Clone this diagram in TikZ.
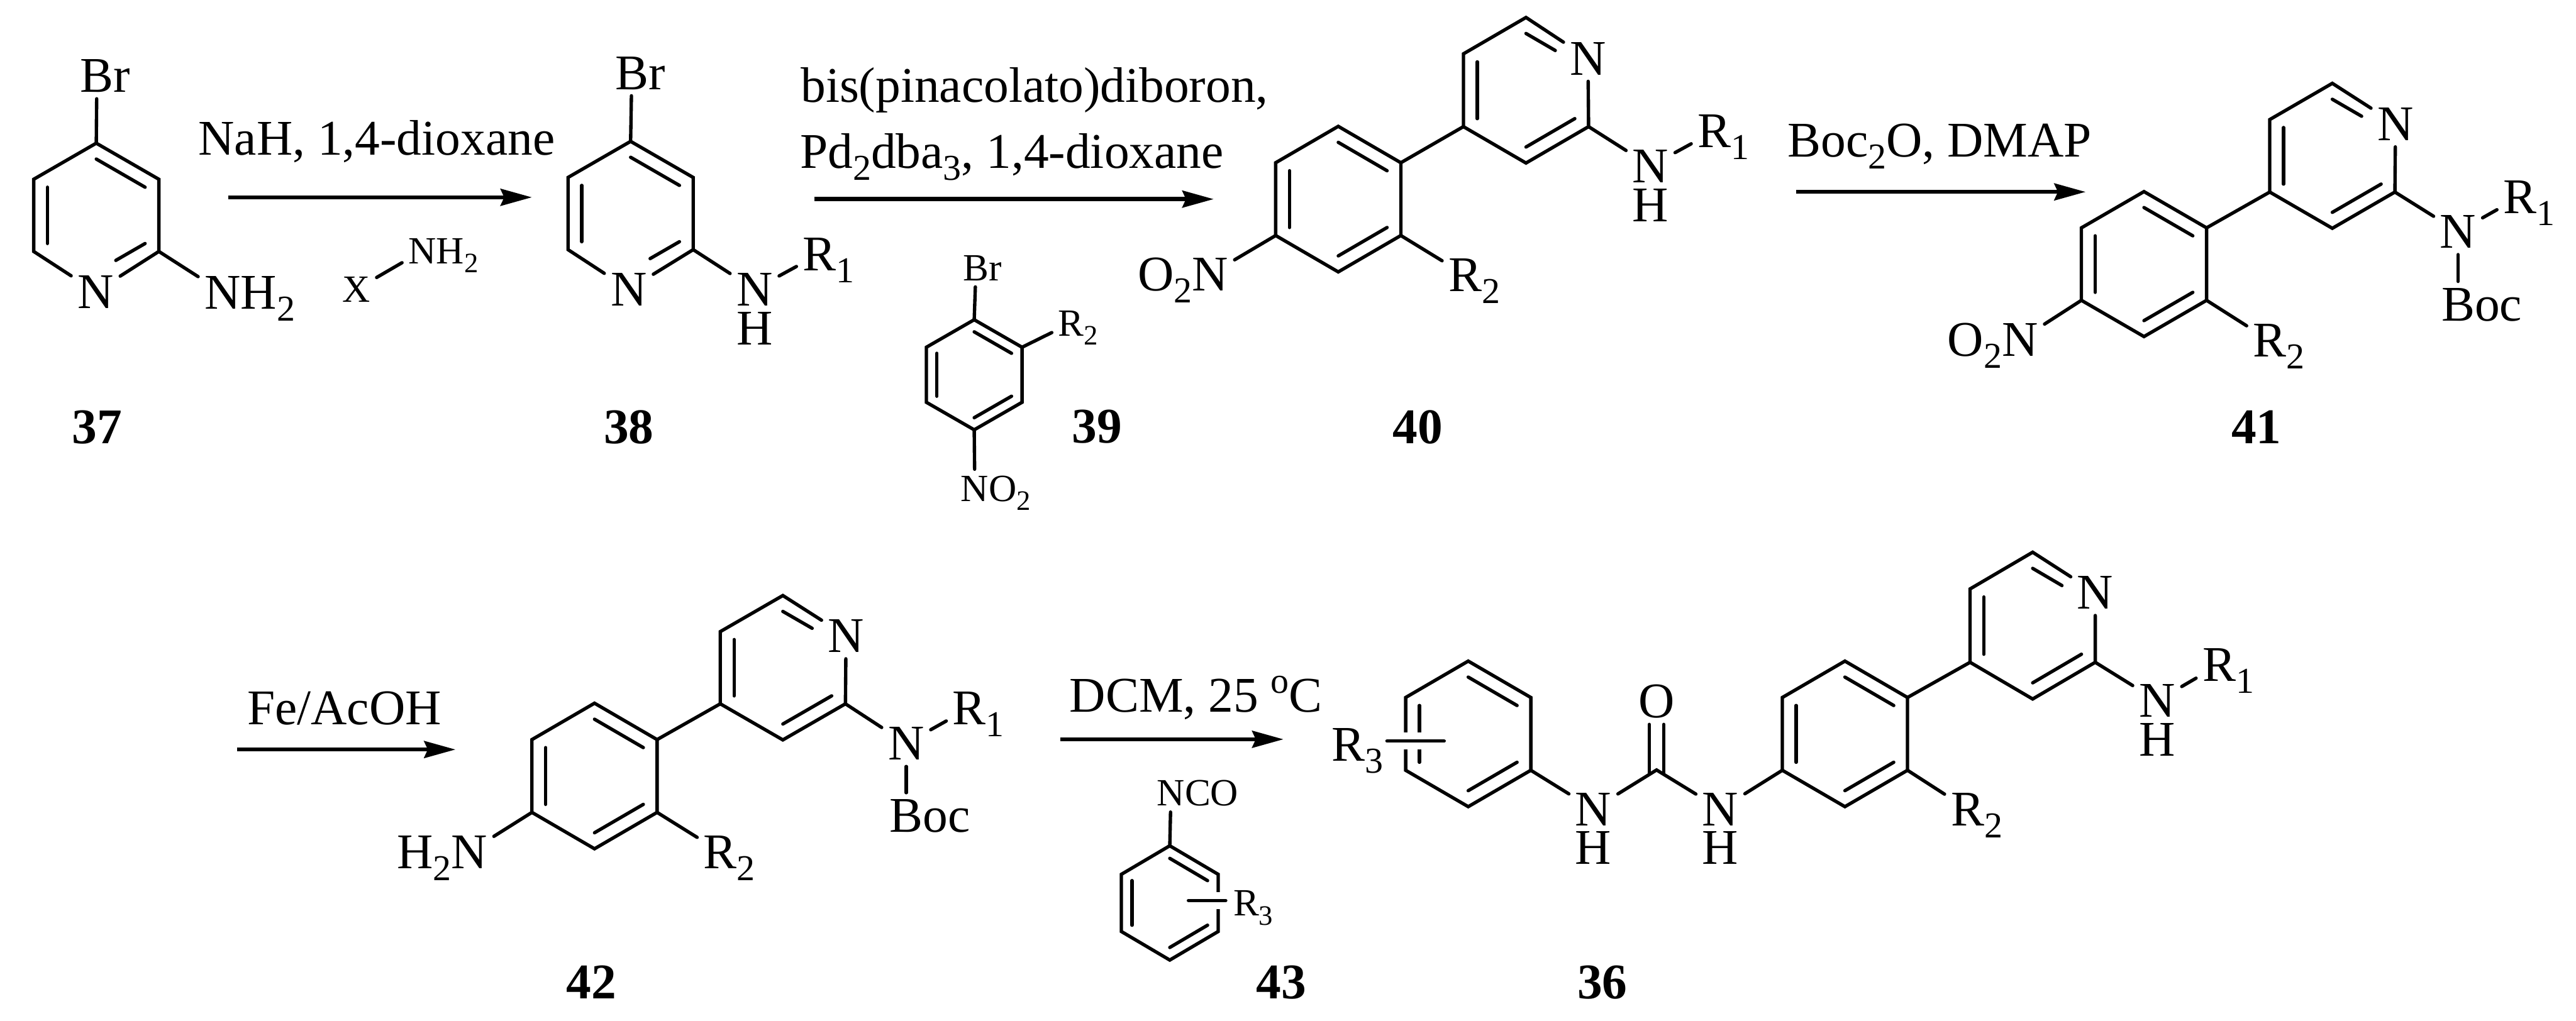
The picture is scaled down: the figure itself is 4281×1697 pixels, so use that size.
\documentclass[tikz,border=0pt]{standalone}
\usepackage{graphicx}
\usepackage{fontspec}
\setmainfont{Liberation Serif}
\usetikzlibrary{arrows.meta, calc}

\newcommand{\chsub}[1]{\raisebox{-.24em}{\scalebox{.73}{#1}}}
\newcommand{\hexring}[5]{%
    \coordinate (#1-c) at (#2, #3);
    \coordinate (#1-1) at ($(#1-c) + (0, -#5)$);
    \coordinate (#1-2) at ($(#1-c) + (#4, -#5/2)$);
    \coordinate (#1-3) at ($(#1-c) + (#4, #5/2)$);
    \coordinate (#1-4) at ($(#1-c) + (0, #5)$);
    \coordinate (#1-5) at ($(#1-c) + (-#4, #5/2)$);
    \coordinate (#1-6) at ($(#1-c) + (-#4, -#5/2)$);
}
\newcommand{\dbl}[3]{\draw [bond] ($(#1-#2)!0.22!(#1-c)$) -- ($(#1-#3)!0.22!(#1-c)$);}
\newcommand{\dblN}[3]{\draw [bond] ($(#1-#2)!0.22!(#1-c)$) -- ($($(#1-#2)!0.22!(#1-c)$)!0.6!($(#1-#3)!0.22!(#1-c)$)$);}

\tikzset{
    bond/.style = {line width = 1.4pt, line cap = round},
    halo/.style = {preaction = {draw, white, line width = 7pt, line cap = butt}},
    rxn/.style = {line width = 1.7pt, -{Stealth[length = 13pt, width = 7pt, inset = 1.5pt]}},
    atom/.style = {inner sep = 2.5pt, text height = 13.7pt, text depth = 0pt, font = \fontsize{20.75}{24}\selectfont},
    smallatom/.style = {inner sep = 2.5pt, text height = 10.6pt, text depth = 0pt, font = \fontsize{16}{19}\selectfont},
    reagent/.style = {inner sep = 0pt, anchor = base west, font = \fontsize{20.75}{24}\selectfont},
    cmpd/.style = {inner sep = 0pt, text height = 14pt, text depth = 0pt, font = \fontsize{20.75}{24}\selectfont\bfseries},
}

\begin{document}
\begin{tikzpicture}[x = 0.25pt, y = -0.25pt]
    \useasboundingbox (0, 0) rectangle (4281, 1697);

    % 37
    \hexring{py37}{160}{358}{104}{120}
    \node [atom] (n37) at (159, 485) {N};
    \node [atom] (nh37) at (370, 486) {N\rlap{H\chsub{2}}};
    \node [atom] (br37) at (161, 126) {B\rlap{r}};
    \draw [bond] (n37) -- (py37-5) -- (py37-6) -- (py37-1) -- (py37-2) -- (py37-3) -- (n37);
    \draw [bond] (py37-1) -- (br37);
    \draw [bond] (py37-3) -- (nh37);
    \dbl{py37}{1}{2}
    \dbl{py37}{6}{5}
    \dblN{py37}{3}{4}
    \node [cmpd] (lab37) at (161, 709) {37};

    % first step
    \node [reagent] (nahDiox) at (329, 258) {NaH, 1,4-dioxane};
    \coordinate (arr1s) at (379, 328);
    \coordinate (arr1e) at (884, 328);
    \draw [rxn] (arr1s) -- (arr1e);
    \node [smallatom] (xAmine) at (592, 481) {X};
    \node [smallatom] (nhAmine) at (702, 417) {N\rlap{H\chsub{2}}};
    \draw [bond] (xAmine) -- (nhAmine);

    % 38
    \hexring{py38}{1048}{355}{104}{120}
    \node [atom] (n38) at (1045, 481) {N};
    \node [atom] (nr38) at (1254, 481) {N};
    \node [atom] (h38) at (1254, 546) {H};
    \node [atom] (r38) at (1362, 422) {R\rlap{\chsub{1}}};
    \node [atom] (br38) at (1050, 121) {B\rlap{r}};
    \draw [bond] (n38) -- (py38-5) -- (py38-6) -- (py38-1) -- (py38-2) -- (py38-3) -- (n38);
    \draw [bond] (py38-1) -- (br38);
    \draw [bond] (py38-3) -- (nr38);
    \draw [bond] (nr38) -- (r38);
    \dbl{py38}{1}{2}
    \dbl{py38}{6}{5}
    \dblN{py38}{3}{4}
    \node [cmpd] (lab38) at (1045, 709) {38};

    % second step
    \node [reagent] (bisPin) at (1330, 170) {bis(pinacolato)diboron,};
    \node [reagent] (pdDba) at (1329, 280) {Pd\chsub{2}dba\chsub{3}, 1,4-dioxane};
    \coordinate (arr2s) at (1353, 331);
    \coordinate (arr2e) at (2017, 331);
    \draw [rxn] (arr2s) -- (arr2e);

    % 39
    \hexring{ar39}{1619}{623}{79.5}{91.5}
    \node [smallatom] (br39) at (1622, 445) {B\rlap{r}};
    \node [smallatom] (r39) at (1780, 537) {R\rlap{\chsub{2}}};
    \node [smallatom] (no39) at (1620, 812) {N\rlap{O\chsub{2}}};
    \draw [bond] (ar39-1) -- (ar39-2) -- (ar39-3) -- (ar39-4) -- (ar39-5) -- (ar39-6) -- cycle;
    \draw [bond] (ar39-1) -- (br39);
    \draw [bond] (ar39-2) -- (r39);
    \draw [bond] (ar39-4) -- (no39);
    \dbl{ar39}{1}{2}
    \dbl{ar39}{6}{5}
    \dbl{ar39}{4}{3}
    \node [cmpd] (lab39) at (1823, 708) {39};

    % 40
    \hexring{ar40}{2224}{331}{104}{121}
    \hexring{py40}{2536}{150}{104}{121}
    \node [atom] (n40) at (2639, 97) {N};
    \node [atom] (nr40) at (2743, 276) {N};
    \node [atom] (h40) at (2743, 341) {H};
    \node [atom] (ra40) at (2849, 218) {R\rlap{\chsub{1}}};
    \node [atom] (rb40) at (2435, 457) {R\rlap{\chsub{2}}};
    \node [atom] (no40) at (2011, 456) {\llap{O\chsub{2}}N};
    \draw [bond] (ar40-1) -- (ar40-2) -- (ar40-3) -- (ar40-4) -- (ar40-5) -- (ar40-6) -- cycle;
    \draw [bond] (n40) -- (py40-3) -- (py40-4) -- (py40-5) -- (py40-6) -- (py40-1) -- (n40);
    \draw [bond] (ar40-2) -- (py40-5);
    \draw [bond] (ar40-3) -- (rb40);
    \draw [bond] (ar40-5) -- (no40);
    \draw [bond] (py40-3) -- (nr40);
    \draw [bond] (nr40) -- (ra40);
    \dbl{ar40}{1}{2}
    \dbl{ar40}{6}{5}
    \dbl{ar40}{4}{3}
    \dblN{py40}{1}{2}
    \dbl{py40}{6}{5}
    \dbl{py40}{4}{3}
    \node [cmpd] (lab40) at (2356, 709) {40};

    % third step
    \node [reagent] (bocDmap) at (2970, 261) {Boc\chsub{2}O, DMAP};
    \coordinate (arr3s) at (2985, 319);
    \coordinate (arr3e) at (3466, 319);
    \draw [rxn] (arr3s) -- (arr3e);

    % 41
    \hexring{ar41}{3563}{439}{104}{120.5}
    \hexring{py41}{3876}{259}{104}{120.5}
    \node [atom] (n41) at (3981, 206) {N};
    \node [atom] (nr41) at (4085, 385) {N};
    \node [atom] (boc41) at (4085, 506) {B\rlap{oc}};
    \node [atom] (ra41) at (4188, 327) {R\rlap{\chsub{1}}};
    \node [atom] (rb41) at (3772, 566) {R\rlap{\chsub{2}}};
    \node [atom] (no41) at (3357, 565) {\llap{O\chsub{2}}N};
    \draw [bond] (ar41-1) -- (ar41-2) -- (ar41-3) -- (ar41-4) -- (ar41-5) -- (ar41-6) -- cycle;
    \draw [bond] (n41) -- (py41-3) -- (py41-4) -- (py41-5) -- (py41-6) -- (py41-1) -- (n41);
    \draw [bond] (ar41-2) -- (py41-5);
    \draw [bond] (ar41-3) -- (rb41);
    \draw [bond] (ar41-5) -- (no41);
    \draw [bond] (py41-3) -- (nr41);
    \draw [bond] (nr41) -- (ra41);
    \draw [bond] (nr41) -- (boc41);
    \dbl{ar41}{1}{2}
    \dbl{ar41}{6}{5}
    \dbl{ar41}{4}{3}
    \dblN{py41}{1}{2}
    \dbl{py41}{6}{5}
    \dbl{py41}{4}{3}
    \node [cmpd] (lab41) at (3750, 709) {41};

    % fourth step
    \node [reagent] (feAcoh) at (410, 1205) {Fe/AcOH};
    \coordinate (arr4s) at (394, 1246);
    \coordinate (arr4e) at (757, 1246);
    \draw [rxn] (arr4s) -- (arr4e);

    % 42
    \hexring{ar42}{988}{1290}{104}{121}
    \hexring{py42}{1301}{1110}{104}{120}
    \node [atom] (n42) at (1406, 1057) {N};
    \node [atom] (nr42) at (1506, 1236) {N};
    \node [atom] (boc42) at (1506, 1356) {B\rlap{oc}};
    \node [atom] (ra42) at (1611, 1177) {R\rlap{\chsub{1}}};
    \node [atom] (rb42) at (1197, 1416) {R\rlap{\chsub{2}}};
    \node [atom] (nh42) at (780, 1416) {\llap{H\chsub{2}}N};
    \draw [bond] (ar42-1) -- (ar42-2) -- (ar42-3) -- (ar42-4) -- (ar42-5) -- (ar42-6) -- cycle;
    \draw [bond] (n42) -- (py42-3) -- (py42-4) -- (py42-5) -- (py42-6) -- (py42-1) -- (n42);
    \draw [bond] (ar42-2) -- (py42-5);
    \draw [bond] (ar42-3) -- (rb42);
    \draw [bond] (ar42-5) -- (nh42);
    \draw [bond] (py42-3) -- (nr42);
    \draw [bond] (nr42) -- (ra42);
    \draw [bond] (nr42) -- (boc42);
    \dbl{ar42}{1}{2}
    \dbl{ar42}{6}{5}
    \dbl{ar42}{4}{3}
    \dblN{py42}{1}{2}
    \dbl{py42}{6}{5}
    \dbl{py42}{4}{3}
    \node [cmpd] (lab42) at (983, 1632) {42};

    % fifth step
    \node [reagent] (dcmTemp) at (1777, 1184) {DCM, 25 \raisebox{.385em}{\scalebox{.73}{o}}C};
    \coordinate (arr5s) at (1762, 1229);
    \coordinate (arr5e) at (2133, 1229);
    \draw [rxn] (arr5s) -- (arr5e);

    % 43
    \hexring{ar43}{1944}{1501}{80.5}{95}
    \node [smallatom] (nco43) at (1946, 1318) {N\rlap{CO}};
    \node [smallatom] (r43) at (2071, 1501) {R\rlap{\chsub{3}}};
    \coordinate (bar43a) at (1975, 1497);
    \coordinate (bar43b) at (2037, 1497);
    \draw [bond] (ar43-1) -- (ar43-2) -- (ar43-3) -- (ar43-4) -- (ar43-5) -- (ar43-6) -- cycle;
    \draw [bond] (ar43-1) -- (nco43);
    \dbl{ar43}{1}{2}
    \dbl{ar43}{6}{5}
    \dbl{ar43}{4}{3}
    \draw [bond, halo] (bar43a) -- (bar43b);
    \node [cmpd] (lab43) at (2129, 1632) {43};

    % 36
    \hexring{ph36}{2440}{1220}{104}{121}
    \hexring{ar36}{3066}{1220}{104}{121}
    \hexring{py36}{3378}{1040}{104}{122}
    \coordinate (c36) at (2753, 1280);
    \coordinate (bar36a) at (2305, 1232);
    \coordinate (bar36b) at (2400, 1232);
    \node [atom] (r36) at (2241, 1238) {R\rlap{\chsub{3}}};
    \node [atom] (na36) at (2648, 1345) {N};
    \node [atom] (ha36) at (2648, 1409) {H};
    \node [atom] (nb36) at (2859, 1345) {N};
    \node [atom] (hb36) at (2859, 1409) {H};
    \node [atom] (o36) at (2753, 1166) {O};
    \node [atom] (rb36) at (3270, 1345) {R\rlap{\chsub{2}}};
    \node [atom] (n36) at (3482, 985) {N};
    \node [atom] (nr36) at (3585, 1165) {N};
    \node [atom] (h36) at (3585, 1229) {H};
    \node [atom] (ra36) at (3688, 1105) {R\rlap{\chsub{1}}};
    \draw [bond] (ph36-1) -- (ph36-2) -- (ph36-3) -- (ph36-4) -- (ph36-5) -- (ph36-6) -- cycle;
    \draw [bond] (ar36-1) -- (ar36-2) -- (ar36-3) -- (ar36-4) -- (ar36-5) -- (ar36-6) -- cycle;
    \draw [bond] (n36) -- (py36-3) -- (py36-4) -- (py36-5) -- (py36-6) -- (py36-1) -- (n36);
    \draw [bond] (ph36-3) -- (na36);
    \draw [bond] (na36) -- (c36) -- (nb36);
    \draw [bond] (nb36) -- (ar36-5);
    \draw [bond] ([xshift = -3pt]o36.south) -- ([shift = {(-3pt, -1.5pt)}]c36);
    \draw [bond] ([xshift = 3pt]o36.south) -- ([shift = {(3pt, -1.5pt)}]c36);
    \draw [bond] (ar36-2) -- (py36-5);
    \draw [bond] (ar36-3) -- (rb36);
    \draw [bond] (py36-3) -- (nr36);
    \draw [bond] (nr36) -- (ra36);
    \dbl{ph36}{1}{2}
    \dbl{ph36}{6}{5}
    \dbl{ph36}{4}{3}
    \dbl{ar36}{1}{2}
    \dbl{ar36}{6}{5}
    \dbl{ar36}{4}{3}
    \dblN{py36}{1}{2}
    \dbl{py36}{6}{5}
    \dbl{py36}{4}{3}
    \draw [bond, halo] (bar36a) -- (bar36b);
    \node [cmpd] (lab36) at (2663, 1632) {36};
\end{tikzpicture}
\end{document}
